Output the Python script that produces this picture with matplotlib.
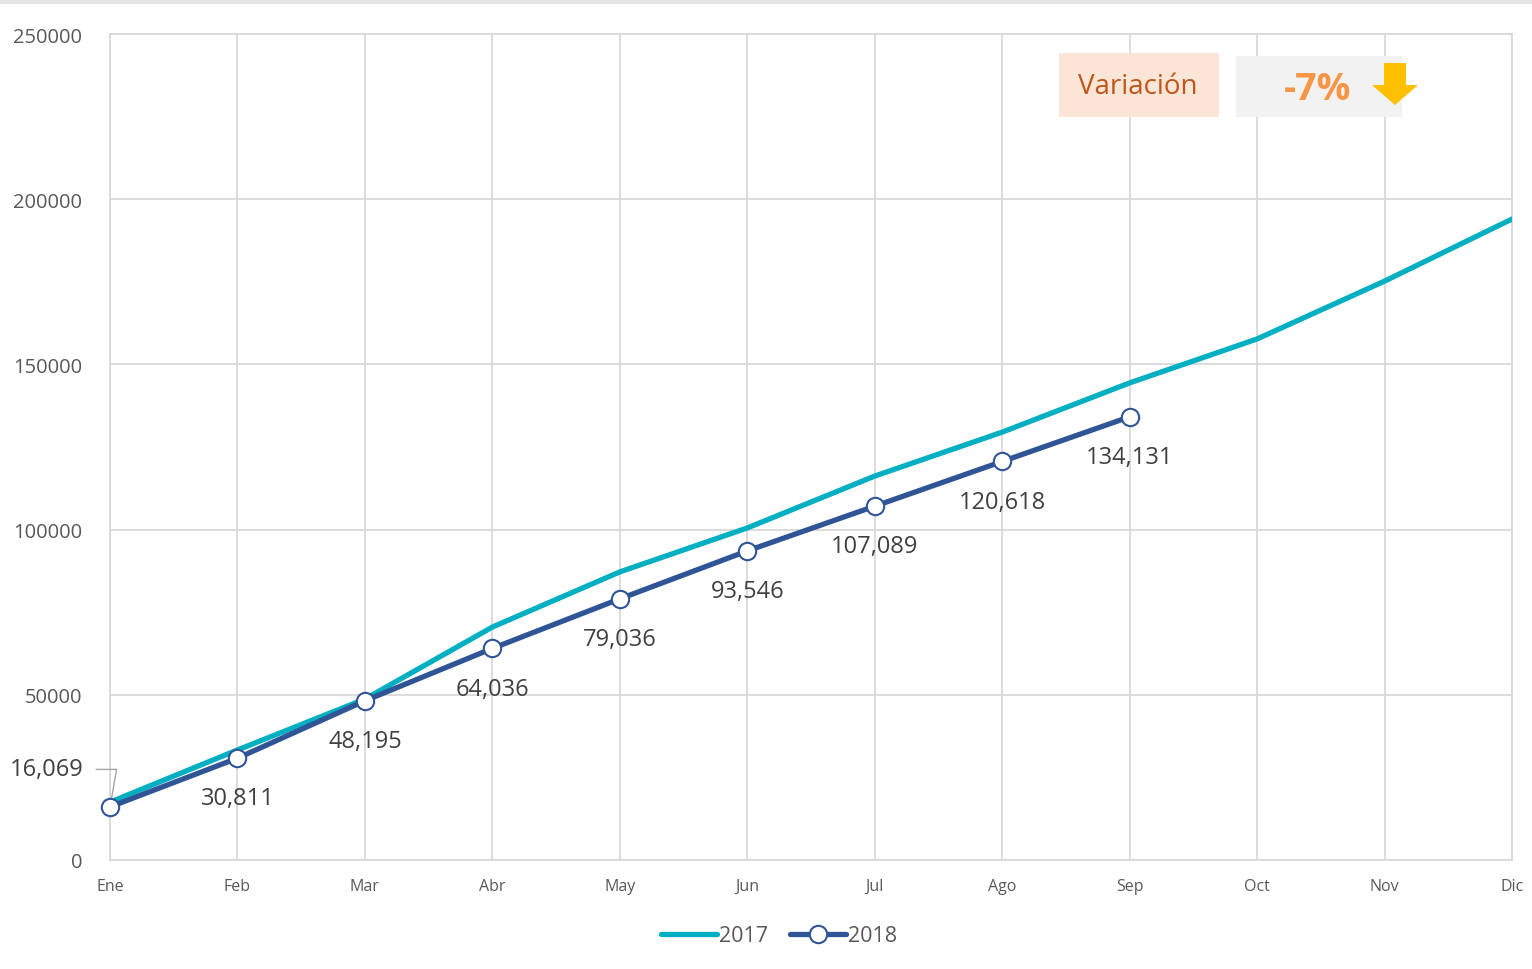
import matplotlib.pyplot as plt
from matplotlib.patches import Rectangle, FancyArrow

months = ["Ene", "Feb", "Mar", "Abr", "May", "Jun", "Jul", "Ago", "Sep", "Oct", "Nov", "Dic"]
ventas_2017 = [17500, 33300, 48700, 70500, 87200, 100500, 116200, 129500, 144400, 157700, 175200, 194000]
ventas_2018 = [16069, 30811, 48195, 64036, 79036, 93546, 107089, 120618, 134131]
variacion = "-7%"

plt.rcParams['font.family'] = ['Open Sans', 'DejaVu Sans']

fig = plt.figure(figsize=(15.32, 9.70), dpi=100)
ax = fig.add_axes([110/1532, 109/970, 1402/1532, 826/970])

x17 = list(range(len(ventas_2017)))
x18 = list(range(len(ventas_2018)))
ax.plot(x17, ventas_2017, color="#00AFC1", lw=3.8, solid_capstyle="round", label="2017", zorder=3)
ax.plot(x18, ventas_2018, color="#2F5597", lw=3.8, marker="o", ms=12.5, mfc="white",
        mec="#2F5597", mew=1.5, solid_capstyle="round", label="2018", zorder=4, clip_on=False)

ax.set_xlim(0, 11)
ax.set_ylim(0, 250000)
ax.set_xticks(x17)
ax.set_xticklabels(months)
ax.set_yticks(range(0, 250001, 50000))
ax.tick_params(axis="x", length=0, pad=13, labelsize=11.5, labelcolor="#595959")
ax.tick_params(axis="y", length=0, pad=20, labelsize=14.5, labelcolor="#595959")
ax.grid(True, color="#D9D9D9", lw=1.3)
for s in ax.spines.values():
    s.set_color("#D9D9D9")
    s.set_linewidth(1.3)

# etiquetas de datos
for i, v in enumerate(ventas_2018):
    if i == 0:
        ax.annotate(f"{v:,}", xy=(i, v), xytext=(-19, 27), textcoords="offset points",
                    ha="right", va="center", fontsize=17, color="#404040",
                    arrowprops=dict(arrowstyle="-", color="#A6A6A6", lw=1,
                                    connectionstyle="angle,angleA=0,angleB=80,rad=0",
                                    shrinkA=7, shrinkB=6))
    else:
        ax.annotate(f"{v:,}", xy=(i, v), xytext=(0, -29), textcoords="offset points",
                    ha="center", va="center", fontsize=17, color="#404040")

# cuadro de variación
fig.patches.append(Rectangle((1059/1532, 1 - 118/970), 160/1532, 64/970,
                             transform=fig.transFigure, facecolor="#FBE5D6", edgecolor="none", zorder=5))
fig.text(1138/1532, 1 - 87/970, "Variación", ha="center", va="center", fontsize=20,
         color="#C0561A", zorder=6)
fig.patches.append(Rectangle((1236/1532, 1 - 118/970), 166/1532, 61/970,
                             transform=fig.transFigure, facecolor="#F2F2F2", edgecolor="none", zorder=5))
fig.text(1318/1532, 1 - 90/970, variacion, ha="center", va="center", fontsize=27,
         fontweight="bold", color="#F79646", zorder=6)
fig.patches.append(FancyArrow(1395/1532, 1 - 64/970, 0, -42/970, width=22/1532,
                              head_width=46/1532, head_length=20/970, length_includes_head=True,
                              transform=fig.transFigure, facecolor="#FFC000", edgecolor="none", zorder=7))

# barra gris superior
fig.patches.append(Rectangle((0, 1 - 5/970), 1, 5/970, transform=fig.transFigure,
                             facecolor="#E4E4E4", edgecolor="none"))

ax.legend(loc="center", bbox_to_anchor=(669/1402, -76/826), ncol=2, frameon=False,
          fontsize=15.5, labelcolor="#595959", handlelength=2.6, handletextpad=0.1,
          columnspacing=1.0)

fig.savefig("out.png", dpi=100)
